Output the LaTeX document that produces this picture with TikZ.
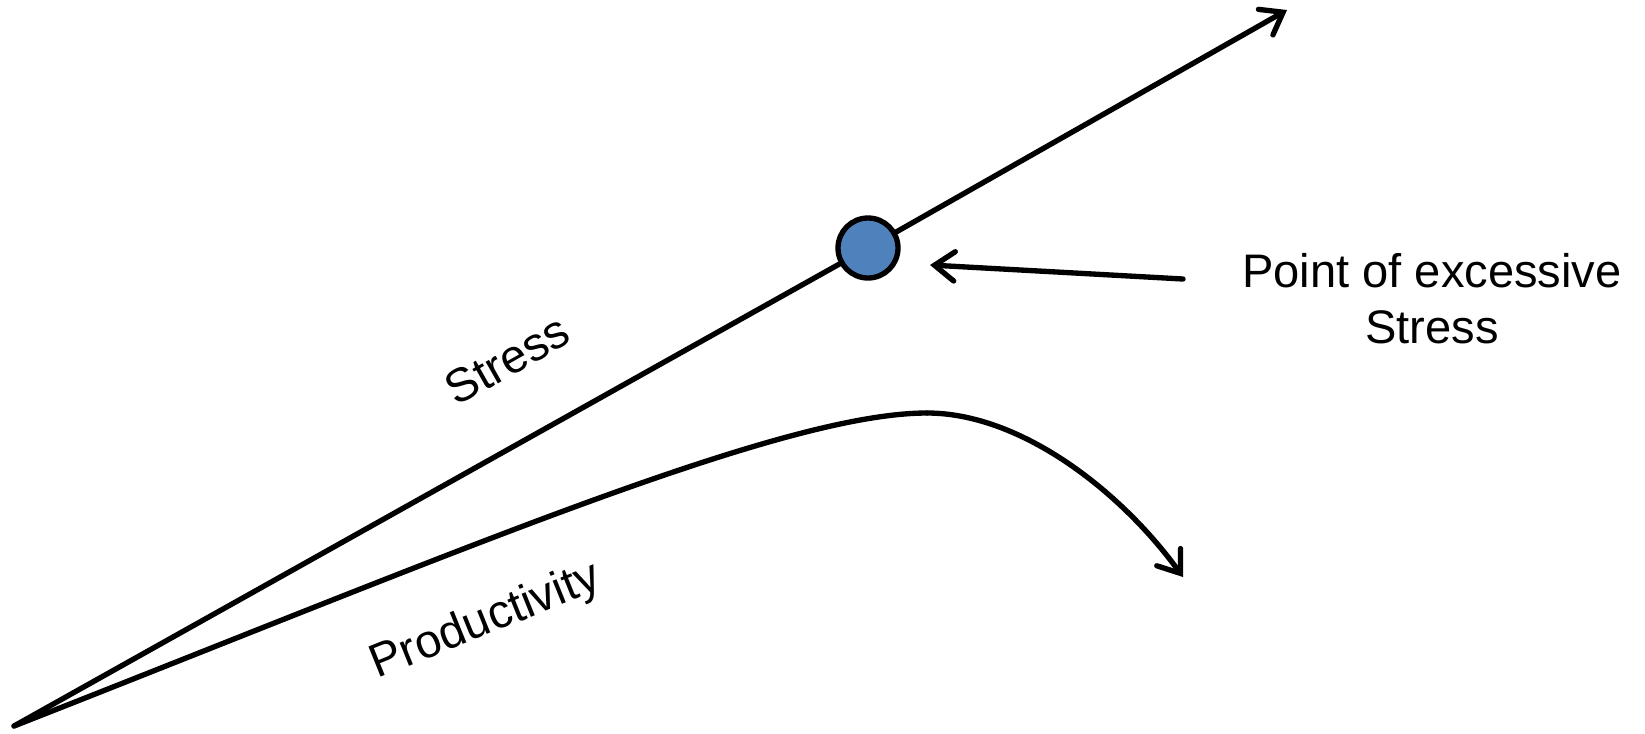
\documentclass[tikz,border=0pt]{standalone}
\usepackage{fontspec}
\setmainfont{Liberation Sans}
\usetikzlibrary{arrows.meta}
\definecolor{dotblue}{RGB}{79,129,189}
\tikzset{
  line/.style={line width=4pt, line cap=round, line join=round},
  barb/.style={-{Straight Barb[length=15pt,width=22pt,line cap=round]}},
  lbl/.style={font=\fontsize{35.3}{42}\selectfont, inner sep=0pt, align=center},
  dot/.style={circle, draw, line width=4pt, fill=dotblue, minimum size=45pt, inner sep=0pt}
}
\begin{document}
\begin{tikzpicture}[x=0.75pt,y=-0.75pt]
\useasboundingbox (0,0) rectangle (1645,733);
\coordinate (O) at (14,726);
\coordinate (S) at (1287,10);
\coordinate (peak) at (927,413);
\coordinate (P) at (1183,577);
\coordinate (ptrA) at (1183,279);
\coordinate (ptrB) at (930,265);
\node[dot] (dot) at (868,248) {};
\draw[line] (O) -- (dot);
\draw[line,barb] (dot) -- (S);
\draw[line] (O) .. controls (450,555) and (780,413) .. (peak);
\draw[line,barb] (peak) .. controls (1020,413) and (1120,490) .. (P);
\draw[line,barb] (ptrA) -- (ptrB);
\node[lbl] (note) at (1432,299) {Point of excessive\\Stress};
\node[lbl, rotate=29.4] (stress) at (507,360) {Stress};
\node[lbl, rotate=22] (prod) at (486,622) {Productivity};
\end{tikzpicture}
\end{document}
